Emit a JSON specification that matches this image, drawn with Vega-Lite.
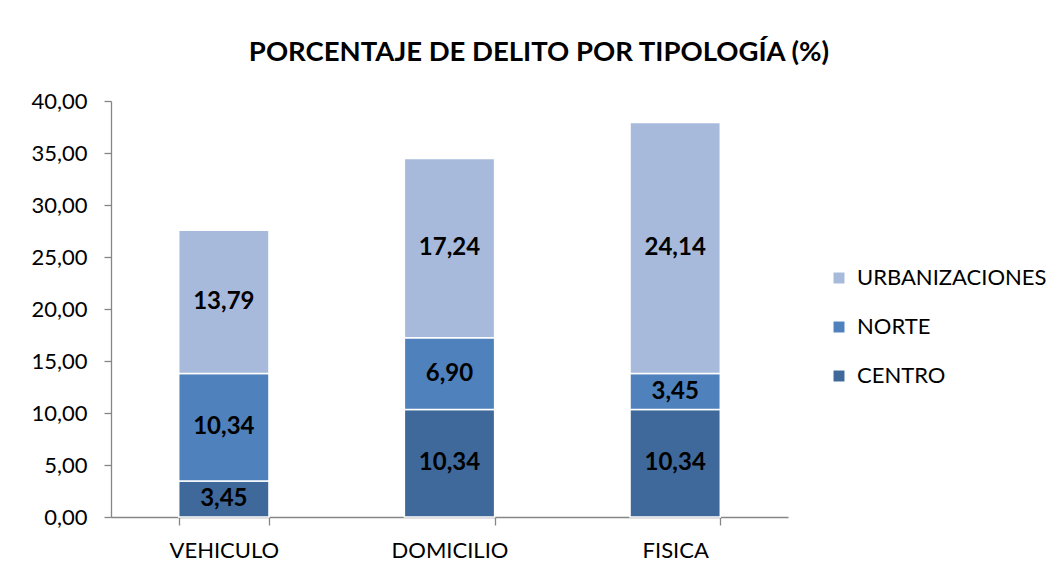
{
  "$schema": "https://vega.github.io/schema/vega-lite/v6.json",
  "autosize": "none",
  "width": 677,
  "height": 416,
  "padding": {"left": 111, "top": 101, "right": 276, "bottom": 60},
  "background": "white",
  "title": {
    "text": "PORCENTAJE DE DELITO POR TIPOLOGÍA (%)",
    "font": "Lato",
    "fontSize": 27.5,
    "fontWeight": "bold",
    "color": "#000000",
    "anchor": "middle",
    "frame": "bounds",
    "offset": 24
  },
  "data": {
    "values": [
      {"tipologia": "VEHICULO", "zona": "CENTRO", "orden": 1, "valor": 3.45},
      {"tipologia": "VEHICULO", "zona": "NORTE", "orden": 2, "valor": 10.34},
      {"tipologia": "VEHICULO", "zona": "URBANIZACIONES", "orden": 3, "valor": 13.79},
      {"tipologia": "DOMICILIO", "zona": "CENTRO", "orden": 1, "valor": 10.34},
      {"tipologia": "DOMICILIO", "zona": "NORTE", "orden": 2, "valor": 6.90},
      {"tipologia": "DOMICILIO", "zona": "URBANIZACIONES", "orden": 3, "valor": 17.24},
      {"tipologia": "FISICA", "zona": "CENTRO", "orden": 1, "valor": 10.34},
      {"tipologia": "FISICA", "zona": "NORTE", "orden": 2, "valor": 3.45},
      {"tipologia": "FISICA", "zona": "URBANIZACIONES", "orden": 3, "valor": 24.14}
    ]
  },
  "encoding": {
    "x": {
      "field": "tipologia",
      "type": "nominal",
      "sort": ["VEHICULO", "DOMICILIO", "FISICA"],
      "scale": {"paddingInner": 0.6, "paddingOuter": 0.3},
      "axis": {
        "title": null,
        "labelAngle": 0,
        "labelFont": "Lato",
        "labelFontSize": 22,
        "labelColor": "#000000",
        "labelPadding": 15,
        "tickBand": "extent",
        "tickSize": 8,
        "tickColor": "#868686",
        "domainColor": "#868686",
        "domainWidth": 1.3,
        "tickWidth": 1.3
      }
    },
    "y": {
      "field": "valor",
      "type": "quantitative",
      "stack": "zero",
      "scale": {"domain": [0, 40], "nice": false},
      "axis": {
        "title": null,
        "values": [0, 5, 10, 15, 20, 25, 30, 35, 40],
        "format": ".2f",
        "grid": false,
        "labelFont": "Lato",
        "labelFontSize": 22,
        "labelColor": "#000000",
        "labelPadding": 17,
        "tickSize": 7,
        "tickColor": "#868686",
        "domainColor": "#868686",
        "domainWidth": 1.3,
        "tickWidth": 1.3
      }
    },
    "order": {"field": "orden", "type": "quantitative"}
  },
  "layer": [
    {
      "mark": {"type": "bar", "stroke": "white", "strokeWidth": 1.5},
      "encoding": {
        "color": {
          "field": "zona",
          "type": "nominal",
          "scale": {
            "domain": ["URBANIZACIONES", "NORTE", "CENTRO"],
            "range": ["#A8BADB", "#4F81BD", "#3F689B"]
          },
          "legend": {
            "title": null,
            "orient": "none",
            "legendX": 717,
            "legendY": 166,
            "symbolType": "square",
            "symbolSize": 120,
            "symbolStrokeWidth": 0,
            "labelFont": "Lato",
            "labelFontSize": 22,
            "labelColor": "#000000",
            "labelOffset": 7,
            "labelLimit": 300,
            "rowPadding": 27
          }
        }
      }
    },
    {
      "mark": {"type": "text", "font": "Lato", "fontSize": 24, "fontWeight": "bold", "color": "#000000", "baseline": "middle"},
      "encoding": {
        "y": {"field": "valor", "type": "quantitative", "stack": "zero", "bandPosition": 0.5},
        "text": {"field": "valor", "type": "quantitative", "format": ".2f"}
      }
    }
  ],
  "config": {
    "view": {"stroke": null},
    "locale": {
      "number": {"decimal": ",", "thousands": ".", "grouping": [3], "currency": ["", " €"]}
    }
  }
}
